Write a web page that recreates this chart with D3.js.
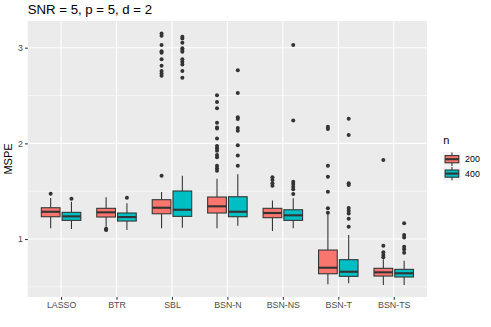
<!DOCTYPE html>
<html><head><meta charset="utf-8">
<script src="https://cdn.jsdelivr.net/npm/d3@7"></script>
<style>body{margin:0;background:#fff}svg{display:block;font-family:"Liberation Sans",Arial,sans-serif}</style>
</head><body>
<script>
const categories = ["LASSO","BTR","SBL","BSN-N","BSN-NS","BSN-T","BSN-TS"];
const groups = ["200","400"];
const colors = ["#F8766D","#00BFC4"];
const yTicks = [1,2,3];
const yMinor = [0.5,1.5,2.5];

// n = 200
const lo200  = [1.112,1.129,1.112,1.112,1.084,0.527,0.519];
const q1_200 = [1.233,1.230,1.264,1.272,1.223,0.637,0.613];
const med200 = [1.285,1.279,1.327,1.342,1.272,0.700,0.652];
const q3_200 = [1.327,1.321,1.411,1.439,1.321,0.885,0.694];
const hi200  = [1.430,1.436,1.491,1.630,1.404,1.258,0.788];
const out200 = [
  [1.473],
  [1.108,1.094,1.100],
  [1.661,3.149,3.124,3.027,2.964,2.947,2.878,2.811,2.756,2.731,2.706],
  [2.502,2.432,2.366,2.215,2.167,2.156,2.052,1.972,1.948,1.923,1.878,1.854,1.766,1.739,1.714],
  [1.645,1.617,1.582,1.557],
  [2.173,2.149,1.766,1.651,1.494,1.321,1.275],
  [1.826,0.930,0.861,0.833,0.809]
];

// n = 400
const lo400  = [1.104,1.094,1.118,1.139,1.112,0.537,0.519];
const q1_400 = [1.195,1.188,1.237,1.233,1.195,0.610,0.603];
const med400 = [1.237,1.230,1.306,1.285,1.248,0.658,0.642];
const q3_400 = [1.279,1.272,1.502,1.442,1.306,0.784,0.683];
const hi400  = [1.390,1.373,1.661,1.676,1.425,1.042,0.773];
const out400 = [
  [1.421],
  [1.432],
  [3.114,3.097,3.051,2.993,2.975,2.958,2.878,2.853,2.825,2.756,2.686],
  [2.763,2.526,2.272,2.254,2.160,2.132,1.979,1.874,1.766],
  [3.027,2.240,1.599,1.575,1.547,1.519,1.470],
  [2.257,2.087,1.582,1.564,1.324,1.296,1.268,1.212,1.129],
  [1.164,1.042,1.017,0.920,0.892,0.857]
];

const series = [
  {lo:lo200,q1:q1_200,med:med200,q3:q3_200,hi:hi200,out:out200},
  {lo:lo400,q1:q1_400,med:med400,q3:q3_400,hi:hi400,out:out400}
];

const W=491,H=327;
const P={l:27.8,r:427,t:21,b:297};
const svg=d3.select("body").append("svg").attr("width",W).attr("height",H);

const x=d3.scalePoint().domain(categories).range([P.l,P.r]).padding(0.6);
const y=d3.scaleLinear().domain([0.394,3.279]).range([P.b,P.t]);
const step=x.step();
const dodge=d3.scaleBand().domain(groups).range([-0.375*step,0.375*step]);
const bw=dodge.bandwidth()*0.9;

// panel
svg.append("rect").attr("x",P.l).attr("y",P.t).attr("width",P.r-P.l).attr("height",P.b-P.t).attr("fill","#EBEBEB");
const grid=svg.append("g");
yMinor.forEach(v=>grid.append("line").attr("x1",P.l).attr("x2",P.r).attr("y1",y(v)).attr("y2",y(v)).attr("stroke","#fff").attr("stroke-width",0.55));
yTicks.forEach(v=>grid.append("line").attr("x1",P.l).attr("x2",P.r).attr("y1",y(v)).attr("y2",y(v)).attr("stroke","#fff").attr("stroke-width",1.07));
categories.forEach(c=>grid.append("line").attr("x1",x(c)).attr("x2",x(c)).attr("y1",P.t).attr("y2",P.b).attr("stroke","#fff").attr("stroke-width",1.07));

// boxes
const ink="#333333";
series.forEach((s,gi)=>{
  const g=svg.append("g");
  categories.forEach((c,i)=>{
    const cx=x(c)+dodge(groups[gi])+dodge.bandwidth()/2;
    g.append("line").attr("x1",cx).attr("x2",cx).attr("y1",y(s.hi[i])).attr("y2",y(s.q3[i])).attr("stroke",ink).attr("stroke-width",1.07);
    g.append("line").attr("x1",cx).attr("x2",cx).attr("y1",y(s.q1[i])).attr("y2",y(s.lo[i])).attr("stroke",ink).attr("stroke-width",1.07);
    g.append("rect").attr("x",cx-bw/2).attr("width",bw).attr("y",y(s.q3[i])).attr("height",y(s.q1[i])-y(s.q3[i]))
      .attr("fill",colors[gi]).attr("stroke",ink).attr("stroke-width",1.07);
    g.append("line").attr("x1",cx-bw/2).attr("x2",cx+bw/2).attr("y1",y(s.med[i])).attr("y2",y(s.med[i])).attr("stroke",ink).attr("stroke-width",2.1);
    s.out[i].forEach(v=>g.append("circle").attr("cx",cx).attr("cy",y(v)).attr("r",2).attr("fill",ink));
  });
});

// axes
const ya=svg.append("g").attr("transform",`translate(${P.l},0)`).call(d3.axisLeft(y).tickValues(yTicks).tickSize(2.75).tickPadding(2.2).tickFormat(d3.format("d")));
const xa=svg.append("g").attr("transform",`translate(0,${P.b})`).call(d3.axisBottom(x).tickSize(2.75).tickPadding(2.2));
[ya,xa].forEach(a=>{a.select(".domain").remove();a.selectAll(".tick line").attr("stroke",ink).attr("stroke-width",1.07);
  a.selectAll(".tick text").attr("fill","#4D4D4D").style("font-size","8.8px").style("font-family","Liberation Sans, Arial, sans-serif");});

// titles
svg.append("text").attr("x",P.l).attr("y",14).text("SNR = 5, p = 5, d = 2").style("font-size","13.2px").attr("fill","#000");
svg.append("text").attr("transform",`translate(12,${(P.t+P.b)/2}) rotate(-90)`).attr("text-anchor","middle").text("MSPE").style("font-size","11px").attr("fill","#000");

// legend
const lg=svg.append("g").attr("transform","translate(443.3,0)");
lg.append("text").attr("x",0).attr("y",144).text("n").style("font-size","11px");
const kw=17.3,kh=14.4,ky0=152;
groups.forEach((gname,i)=>{
  const ky=ky0+i*kh;
  lg.append("rect").attr("x",0).attr("y",ky).attr("width",kw).attr("height",kh).attr("fill","#F2F2F2");
  const cx=kw/2;
  lg.append("line").attr("x1",cx).attr("x2",cx).attr("y1",ky+0.5).attr("y2",ky+kh-0.5).attr("stroke",ink).attr("stroke-width",1.07);
  lg.append("rect").attr("x",1.8).attr("y",ky+kh*0.25).attr("width",kw-3.6).attr("height",kh*0.5).attr("fill",colors[i]).attr("stroke",ink).attr("stroke-width",1.07);
  lg.append("line").attr("x1",1.8).attr("x2",kw-1.8).attr("y1",ky+kh/2).attr("y2",ky+kh/2).attr("stroke",ink).attr("stroke-width",2.1);
  lg.append("text").attr("x",kw+4.5).attr("y",ky+kh/2).attr("dy","0.35em").text(gname).style("font-size","8.8px").attr("fill","#000");
});
</script>
</body></html>
